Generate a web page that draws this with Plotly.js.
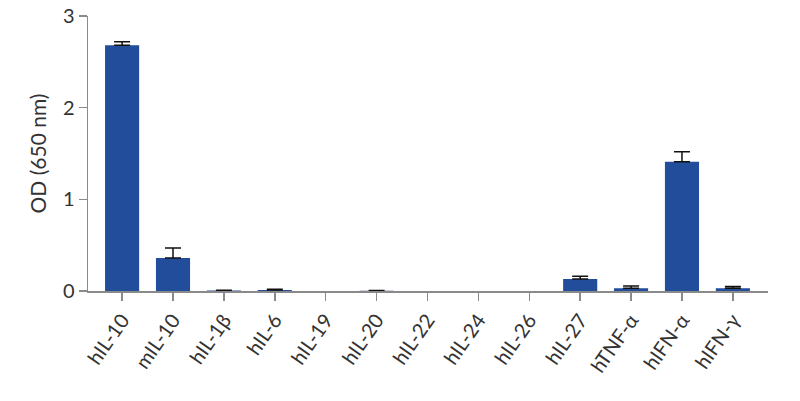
<!DOCTYPE html>
<html>
<head>
<meta charset="utf-8">
<script src="https://cdn.plot.ly/plotly-3.0.1.min.js"></script>
<style>
  html, body { margin: 0; padding: 0; background: #fff; }
  #chart { width: 800px; height: 401px; }
</style>
</head>
<body>
<div id="chart"></div>
<script>
// cytokine panel, OD readings (NaN = no error bar drawn)
const cytokines = ['hIL-10', 'mIL-10', 'hIL-1β', 'hIL-6', 'hIL-19', 'hIL-20', 'hIL-22',
                   'hIL-24', 'hIL-26', 'hIL-27', 'hTNF-α', 'hIFN-α', 'hIFN-γ'];
const odMean = [2.68, 0.36, 0.005, 0.01, 0, 0.002, 0, 0, 0, 0.13, 0.03, 1.41, 0.03];
const odErr  = [0.04, 0.11, 0.004, 0.01, NaN, 0.003, NaN, NaN, NaN, 0.03, 0.025, 0.11, 0.02];

const barColor = '#214d9b';
const axisColor = '#8a8a8a';
const fontFamily = 'Lato, "Open Sans", sans-serif';

var trace1 = {
    x: cytokines,
    y: odMean,
    type: 'bar',
    width: 0.67,
    marker: { color: barColor, line: { width: 0 } },
    error_y: {
        type: 'data',
        symmetric: false,
        array: odErr,
        arrayminus: odErr.map(v => (isNaN(v) ? NaN : 0)),
        color: '#111',
        thickness: 1.5,
        width: 8
    },
    hoverinfo: 'x+y'
};

var layout = {
    width: 800,
    height: 401,
    margin: { l: 88, r: 32, t: 16, b: 110 },
    paper_bgcolor: '#fff',
    plot_bgcolor: '#fff',
    showlegend: false,
    font: { family: fontFamily, color: '#333' },
    xaxis: {
        type: 'category',
        range: [-0.67, 12.69],
        showline: true,
        linecolor: axisColor,
        linewidth: 1.5,
        ticks: 'outside',
        ticklen: 8,
        tickcolor: axisColor,
        tickwidth: 1.5,
        tickangle: -55,
        tickfont: { family: fontFamily, size: 20, color: '#333' },
        showgrid: false,
        zeroline: false
    },
    yaxis: {
        range: [0, 3],
        tickvals: [0, 1, 2, 3],
        showline: true,
        linecolor: axisColor,
        linewidth: 1.5,
        ticks: 'outside',
        ticklen: 8,
        tickcolor: axisColor,
        tickwidth: 1.5,
        tickfont: { family: fontFamily, size: 20, color: '#333' },
        showgrid: false,
        zeroline: false,
        title: { text: 'OD (650 nm)', standoff: 10, font: { family: fontFamily, size: 21, color: '#333' } }
    }
};

Plotly.newPlot('chart', [trace1], layout, { displayModeBar: false, staticPlot: true });
</script>
</body>
</html>
